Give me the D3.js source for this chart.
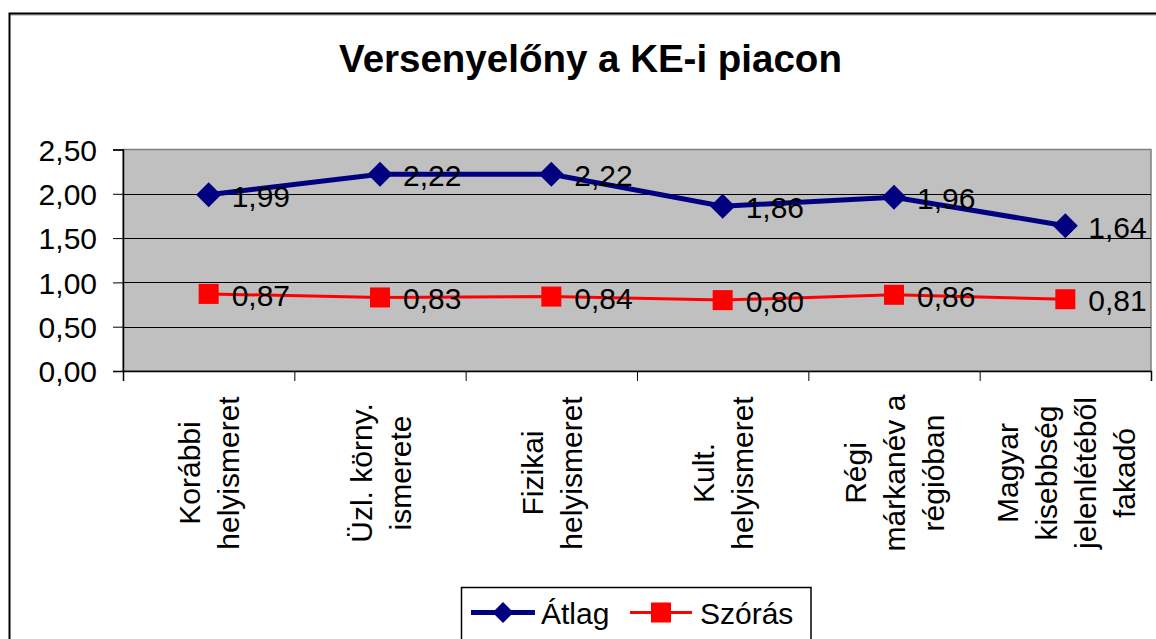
<!DOCTYPE html>
<html>
<head>
<meta charset="utf-8">
<script src="https://cdn.jsdelivr.net/npm/d3@7/dist/d3.min.js"></script>
<style>
  html, body { margin: 0; padding: 0; background: #fff; }
  svg { display: block; font-family: Arial, "Liberation Sans", sans-serif; }
</style>
</head>
<body>
<svg id="chart" width="1156" height="639"></svg>
<script>
const title = "Versenyelőny a KE-i piacon";
const categories = [
  ["Korábbi", "helyismeret"],
  ["Üzl. körny.", "ismerete"],
  ["Fizikai", "helyismeret"],
  ["Kult.", "helyismeret"],
  ["Régi", "márkanév a", "régióban"],
  ["Magyar", "kisebbség", "jelenlétéből", "fakadó"]
];
const seriesNames = ["Átlag", "Szórás"];
const atlag = [1.99, 2.22, 2.22, 1.86, 1.96, 1.64];
const szoras = [0.87, 0.83, 0.84, 0.80, 0.86, 0.81];
const yTicks = [0, 0.5, 1, 1.5, 2, 2.5];

const svg = d3.select("#chart");
const plot = { left: 123, right: 1151, top: 149.5, bottom: 371 };
const fmt = v => d3.format(".2f")(v).replace(".", ",");

// outer frame
svg.append("line").attr("x1", 9.5).attr("x2", 1160).attr("y1", 15).attr("y2", 15).attr("stroke", "#999").attr("stroke-width", 1);
svg.append("path").attr("d", "M9.5,650 V13.5 H1160").attr("fill", "none").attr("stroke", "#000").attr("stroke-width", 2);

// title
svg.append("text").attr("x", 590.5).attr("y", 72).attr("text-anchor", "middle")
  .attr("font-size", 38.5).attr("font-weight", "bold").text(title);

const x = d3.scaleBand().domain(d3.range(categories.length)).range([plot.left, plot.right]).padding(0);
const y = d3.scaleLinear().domain([0, 2.5]).range([plot.bottom, plot.top]);

// plot area
svg.append("rect").attr("x", plot.left).attr("y", plot.top)
  .attr("width", plot.right - plot.left).attr("height", plot.bottom - plot.top)
  .attr("fill", "#C0C0C0").attr("stroke", "#808080").attr("stroke-width", 1.5);

// gridlines
svg.append("g").selectAll("line").data(yTicks.filter(t => t > 0 && t < 2.5)).join("line")
  .attr("x1", plot.left).attr("x2", plot.right)
  .attr("y1", d => Math.round(y(d)) + 0.5).attr("y2", d => Math.round(y(d)) + 0.5)
  .attr("stroke", "#000").attr("stroke-width", 1);

// y axis
const yAxis = d3.axisLeft(y).tickValues(yTicks).tickFormat(fmt).tickSize(10).tickPadding(16);
const gy = svg.append("g").attr("transform", `translate(${plot.left},0)`).call(yAxis);
gy.select(".domain").attr("stroke", "#000").attr("stroke-width", 1.5);
gy.selectAll(".tick line").attr("stroke", "#000").attr("stroke-width", 1);
gy.selectAll(".tick text").attr("font-size", 30).attr("font-family", "Arial, 'Liberation Sans', sans-serif").attr("fill", "#000").attr("dy", "0.36em");

// x axis line + ticks at band boundaries
const xb = d3.scaleLinear().domain([0, categories.length]).range([plot.left, plot.right]);
const gx = svg.append("g").attr("transform", `translate(0,${plot.bottom})`)
  .call(d3.axisBottom(xb).tickValues(d3.range(categories.length + 1)).tickSize(10).tickFormat(""));
gx.select(".domain").attr("stroke", "#000").attr("stroke-width", 1.5);
gx.selectAll(".tick line").attr("stroke", "#000").attr("stroke-width", 1);

// category labels
const lineH = 39;
const labels = svg.append("g").selectAll("text").data(categories).join("text")
  .attr("transform", (d, i) => `translate(${x(i) + x.bandwidth() / 2},473) rotate(-90)`)
  .attr("text-anchor", "middle").attr("font-size", 30).attr("fill", "#000");
labels.each(function(d) {
  const n = d.length;
  d3.select(this).selectAll("tspan").data(d).join("tspan")
    .attr("x", 0).attr("y", (t, j) => (j - (n - 1) / 2) * lineH + 11).text(t => t);
});

const cx = i => x(i) + x.bandwidth() / 2;
const line = d3.line().x((d, i) => cx(i)).y(d => y(d));

// Szórás
svg.append("path").datum(szoras).attr("d", line).attr("fill", "none").attr("stroke", "#FF0000").attr("stroke-width", 3);
svg.append("g").selectAll("rect").data(szoras).join("rect")
  .attr("x", (d, i) => cx(i) - 10).attr("y", d => y(d) - 10).attr("width", 20).attr("height", 20).attr("fill", "#FF0000");

// Átlag
svg.append("path").datum(atlag).attr("d", line).attr("fill", "none").attr("stroke", "#000080").attr("stroke-width", 5);
const diamond = (px, py, r) => `M${px},${py - r}L${px + r},${py}L${px},${py + r}L${px - r},${py}Z`;
svg.append("g").selectAll("path").data(atlag).join("path")
  .attr("d", (d, i) => diamond(cx(i), y(d), 12.5)).attr("fill", "#000080");

// data labels
const addLabels = (data) => svg.append("g").selectAll("text").data(data).join("text")
  .attr("x", (d, i) => cx(i) + 23).attr("y", d => y(d) + 12)
  .attr("font-size", 30).attr("fill", "#000").text(fmt);
addLabels(atlag);
addLabels(szoras);

// legend
const lg = svg.append("g");
lg.append("rect").attr("x", 461.5).attr("y", 587.5).attr("width", 349.5).attr("height", 70)
  .attr("fill", "#fff").attr("stroke", "#000").attr("stroke-width", 1.5);
const ly = 612.5;
lg.append("line").attr("x1", 471).attr("x2", 535).attr("y1", ly).attr("y2", ly).attr("stroke", "#000080").attr("stroke-width", 5);
lg.append("path").attr("d", diamond(503, ly, 10.5)).attr("fill", "#000080");
lg.append("text").attr("x", 541).attr("y", ly + 11).attr("font-size", 30).text(seriesNames[0]);
lg.append("line").attr("x1", 630).attr("x2", 692).attr("y1", ly).attr("y2", ly).attr("stroke", "#FF0000").attr("stroke-width", 3);
lg.append("rect").attr("x", 651).attr("y", ly - 10).attr("width", 20).attr("height", 20).attr("fill", "#FF0000");
lg.append("text").attr("x", 700).attr("y", ly + 11).attr("font-size", 30).text(seriesNames[1]);
</script>
</body>
</html>
